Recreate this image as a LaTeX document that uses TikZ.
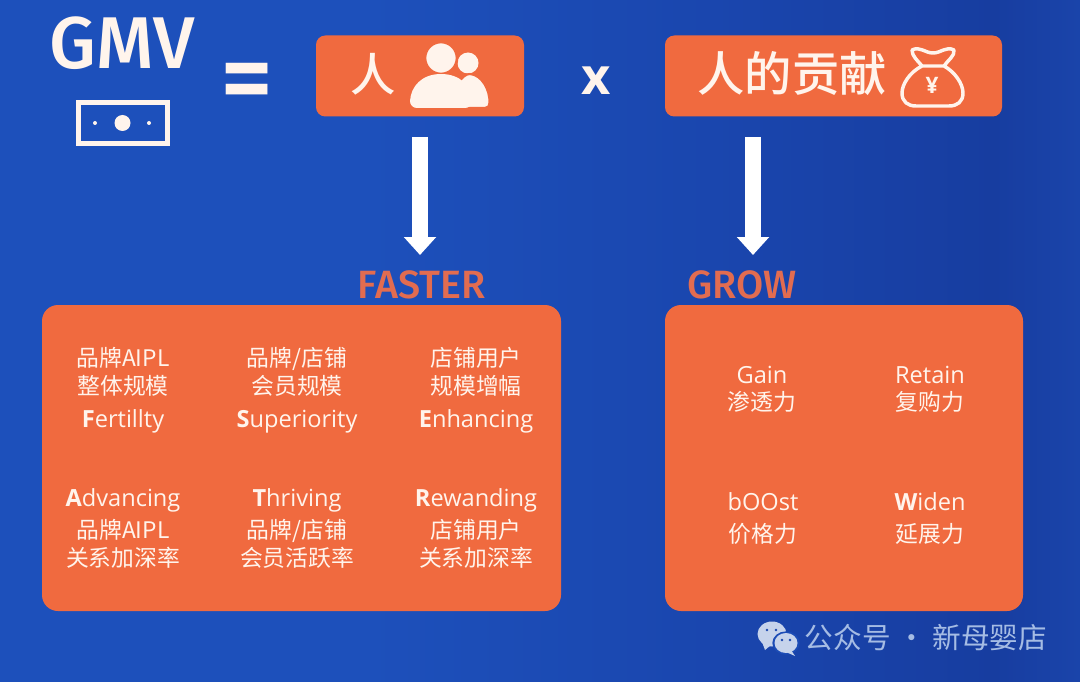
\documentclass[tikz,border=0pt]{standalone}
\usepackage{fontspec}
\usetikzlibrary{arrows.meta}
\setmainfont{Open Sans}
\newfontfamily\cjk{Noto Sans CJK SC}
\newfontfamily\cjkm{Noto Sans CJK SC Medium}
\newfontfamily\din{Fira Sans Medium}
\definecolor{bgA}{RGB}{29,80,187}
\definecolor{bgB}{RGB}{26,70,174}
\definecolor{bgC}{RGB}{23,61,160}
\definecolor{bgD}{RGB}{26,68,170}
\definecolor{org}{RGB}{240,106,63}
\definecolor{orgt}{RGB}{226,108,80}
\definecolor{ink}{RGB}{255,244,236}
\definecolor{wm}{RGB}{165,188,228}
\definecolor{wmi}{RGB}{198,211,235}
\pgfdeclarehorizontalshading{bgshade}{100bp}{color(0bp)=(bgA); color(42bp)=(bgA); color(58bp)=(bgB); color(71bp)=(bgC); color(75bp)=(bgD); color(100bp)=(bgD)}
\tikzset{
  x=0.75pt,y=-0.75pt,
  panel/.style={fill=org,rounded corners=12pt,inner sep=0pt,draw=none},
  lat/.style={anchor=base,inner sep=0pt,text=ink,font={\fontsize{17.7}{17.7}\selectfont}},
  han/.style={anchor=base,inner sep=0pt,text=ink,font={\cjk\fontsize{17.1}{17.1}\selectfont}},
  title/.style={anchor=base,inner sep=0pt,text=orgt,font={\din\fontsize{29.6}{29.6}\selectfont}},
  bigarrow/.style={white,line width=12.5pt,-{Triangle[length=13.5pt,width=23.5pt]}},
  ic/.style={fill=ink,draw=none},
}
\begin{document}
\begin{tikzpicture}
\path[use as bounding box,shading=bgshade] (0,0) rectangle (1080,681);
% header
\node[anchor=base,inner sep=0pt,text=ink,font={\din\fontsize{55}{55}\selectfont}] (gmv) at (122,69) {GMV};
\draw[ink,line width=3.8pt,fill=none] (78.5,102.5) rectangle (167.5,143.5);
\fill[ink] (122.5,123) circle (8);
\fill[ink] (95,123) circle (2);
\fill[ink] (149,123) circle (2);
\node[anchor=base,inner sep=0pt,text=ink,font={\din\fontsize{78}{78}\selectfont}] (eq) at (247.5,113.5) {=};
\node[panel,rounded corners=7pt,minimum width=156pt,minimum height=60.75pt] (ren) at (420,76) {};
\node[anchor=base,inner sep=0pt,text=ink,font={\cjkm\fontsize{34}{34}\selectfont}] (rent) at (373,92) {人};
\fill[ink] (468,63) circle (10.5);
\draw[org,line width=1.6pt,fill=ink] (448,108) .. controls (455,84) and (463,74) .. (470,74) .. controls (482,75) and (490,90) .. (489.5,103) .. controls (489.5,106) and (488,108) .. (485,108) -- cycle;
\draw[org,line width=2pt,fill=ink] (441,58) circle (16);
\path[ic] (417,108) .. controls (413,108) and (410,105) .. (410,101) .. controls (411,86) and (422,74) .. (441,74) .. controls (460,74) and (472,86) .. (472,101) .. controls (472,105) and (469,108) .. (465,108) -- cycle;
\node[anchor=base,inner sep=0pt,text=ink,font={\bfseries\fontsize{38}{38}\selectfont}] (times) at (596.5,95) {x};
\node[panel,rounded corners=7pt,minimum width=252.75pt,minimum height=60.75pt] (gong) at (833.5,76) {};
\node[anchor=base,inner sep=0pt,text=ink,font={\cjkm\fontsize{35.5}{35.5}\selectfont}] (gongt) at (792,92) {人的贡献};
\draw[ink,line width=2.6pt,line join=round] (922,66) .. controls (917,60) and (912,56) .. (912,50) .. controls (920,46) and (925,53) .. (933,53) .. controls (941,53) and (946,46) .. (954,50) .. controls (955,56) and (948,60) .. (944,66) -- cycle .. controls (910,72) and (902,84) .. (902,93) .. controls (902,102) and (908,106) .. (916,106) -- (949,106) .. controls (957,106) and (963,102) .. (963,93) .. controls (963,84) and (955,72) .. (944,66);
\node[anchor=base,inner sep=0pt,text=ink,font={\bfseries\fontsize{17}{17}\selectfont}] (yen) at (932,94) {¥};
% arrows
\coordinate (a1s) at (420,137); \coordinate (a1e) at (420,255);
\coordinate (a2s) at (753,137); \coordinate (a2e) at (753,255);
\draw[bigarrow] (a1s) -- (a1e);
\draw[bigarrow] (a2s) -- (a2e);
\node[title] (faster) at (421.5,298) {FASTER};
\node[title] (grow) at (742,298) {GROW};
% panels
\node[panel,minimum width=389.25pt,minimum height=229.5pt] (left) at (301.5,458) {};
\node[panel,minimum width=268.5pt,minimum height=229.5pt] (right) at (844,458) {};
% left panel, upper row
\node[han] (a1) at (123,366) {品牌AIPL};
\node[han] (a2) at (123,394) {整体规模};
\node[lat] (a3) at (123,427) {\textbf{F}ertillty};
\node[han] (b1) at (297,366) {品牌/店铺};
\node[han] (b2) at (297,394) {会员规模};
\node[lat] (b3) at (297,427) {\textbf{S}uperiority};
\node[han] (c1) at (476,366) {店铺用户};
\node[han] (c2) at (476,394) {规模增幅};
\node[lat] (c3) at (476,427) {\textbf{E}nhancing};
% left panel, lower row
\node[lat] (d1) at (123,506) {\textbf{A}dvancing};
\node[han] (d2) at (123,538) {品牌AIPL};
\node[han] (d3) at (123,566) {关系加深率};
\node[lat] (e1) at (297,506) {\textbf{T}hriving};
\node[han] (e2) at (297,538) {品牌/店铺};
\node[han] (e3) at (297,566) {会员活跃率};
\node[lat] (f1) at (476,506) {\textbf{R}ewanding};
\node[han] (f2) at (476,538) {店铺用户};
\node[han] (f3) at (476,566) {关系加深率};
% right panel
\node[lat] (g1) at (762,383) {Gain};
\node[han] (g2) at (762,410) {渗透力};
\node[lat] (h1) at (930,383) {Retain};
\node[han] (h2) at (930,410) {复购力};
\node[lat] (i1) at (763,510) {bOOst};
\node[han] (i2) at (763,542) {价格力};
\node[lat] (j1) at (930,510) {\textbf{W}iden};
\node[han] (j2) at (930,542) {延展力};
% watermark
\fill[wmi] (772,634) ellipse (14.5 and 12.5);
\fill[wmi] (762,642) -- (765,650) -- (771,645) -- cycle;
\fill[bgA!60!bgB,draw=bgA!60!bgB,line width=1pt] (786,643) ellipse (13 and 11);
\fill[wmi] (786,643) ellipse (11.5 and 10);
\fill[wmi] (791,650) -- (795,656) -- (786,652) -- cycle;
\foreach \p in {(767,630),(776,630),(782,640),(790,640)} \fill[bgB] \p circle (1.3);
\node[anchor=base,inner sep=0pt,text=wm,font={\cjk\fontsize{21.5}{21.5}\selectfont}] (wmt) at (926,648) {公众号 · 新母婴店};
\end{tikzpicture}
\end{document}
